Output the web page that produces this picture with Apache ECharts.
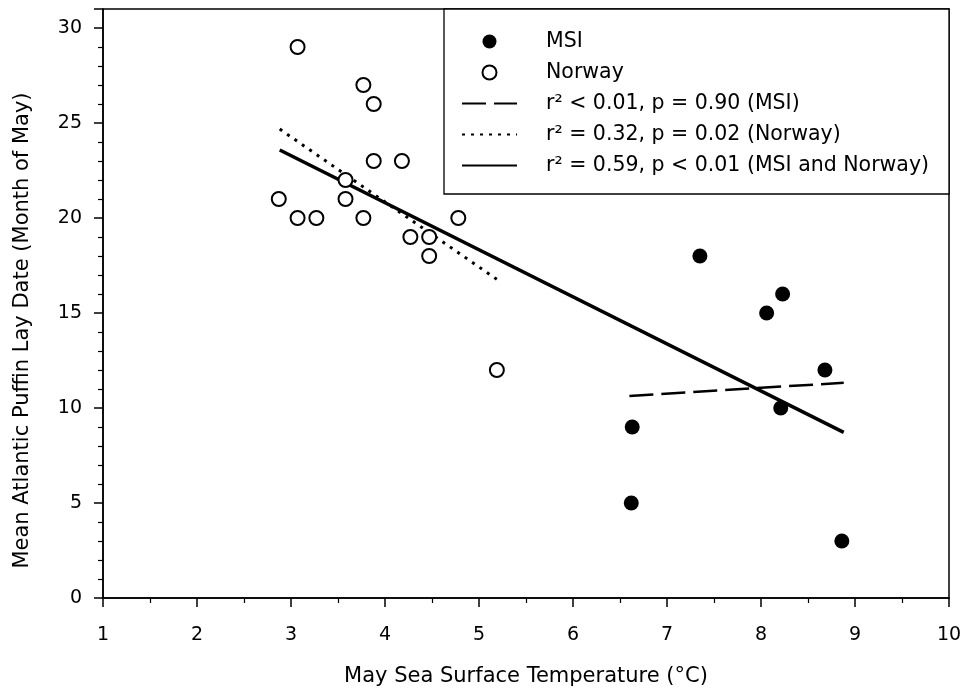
<!DOCTYPE html>
<html>
<head>
<meta charset="utf-8">
<script src="https://cdn.jsdelivr.net/npm/echarts@6/dist/echarts.min.js"></script>
<style>
html,body{margin:0;padding:0;background:#fff;}
#chart{width:965px;height:693px;}
</style>
</head>
<body>
<div id="chart"></div>
<script>
// ---- data ----
const msiX = [7.35, 8.23, 8.06, 8.68, 8.21, 6.63, 6.62, 8.86];
const msiY = [18, 16, 15, 12, 10, 9, 5, 3];
const norwayX = [3.07, 3.77, 3.88, 3.88, 4.18, 3.58, 2.87, 3.58, 3.07, 3.27, 3.77, 4.78, 4.27, 4.47, 4.47, 5.19];
const norwayY = [29, 27, 26, 23, 23, 22, 21, 21, 20, 20, 20, 20, 19, 19, 18, 12];
const fitMsiX = [6.60, 8.88];
const fitMsiY = [10.63, 11.33];
const fitNorwayX = [2.88, 5.19];
const fitNorwayY = [24.68, 16.77];
const fitAllX = [2.88, 8.88];
const fitAllY = [23.58, 8.72];
const seriesNames = ['MSI', 'Norway', 'r\u00B2 < 0.01, p = 0.90 (MSI)', 'r\u00B2 = 0.32, p = 0.02 (Norway)', 'r\u00B2 = 0.59, p < 0.01 (MSI and Norway)'];
const xTitle = 'May Sea Surface Temperature (\u00B0C)';
const yTitle = 'Mean Atlantic Puffin Lay Date (Month of May)';

const zip = (xs, ys) => xs.map((x, i) => [x, ys[i]]);
const FONT = 'DejaVu Sans, Liberation Sans, Arial, sans-serif';
const hiddenSymbol = {color: 'rgba(0,0,0,0)', borderColor: 'rgba(0,0,0,0)', borderWidth: 0, opacity: 0};

const chart = echarts.init(document.getElementById('chart'), null, {renderer: 'canvas'});
chart.setOption({
  animation: false,
  backgroundColor: '#fff',
  textStyle: {fontFamily: FONT, color: '#000'},
  grid: {left: 103, right: 16, top: 9, bottom: 95, show: true, borderColor: '#000', borderWidth: 1.5, backgroundColor: 'transparent'},
  graphic: [{
    type: 'rect', z: 5,
    shape: {x: 444, y: 9, width: 505, height: 185},
    style: {fill: '#fff', stroke: '#000', lineWidth: 1.3}
  }],
  legend: {
    z: 10,
    orient: 'vertical', left: 461, top: 31, padding: 0,
    itemWidth: 55, itemHeight: 14, itemGap: 10,
    selectedMode: false,
    data: [
      {name: seriesNames[0]},
      {name: seriesNames[1]},
      {name: seriesNames[2], itemStyle: hiddenSymbol},
      {name: seriesNames[3], itemStyle: hiddenSymbol},
      {name: seriesNames[4], itemStyle: hiddenSymbol}
    ],
    textStyle: {fontFamily: FONT, fontSize: 20.5, color: '#000', lineHeight: 20, padding: [0, 0, 0, 24]}
  },
  xAxis: {
    type: 'value', min: 1, max: 10, interval: 1,
    name: xTitle, nameLocation: 'middle', nameGap: 68,
    nameTextStyle: {fontFamily: FONT, fontSize: 21, color: '#000'},
    axisLine: {show: true, lineStyle: {color: '#000', width: 1.5}},
    axisTick: {show: true, inside: false, length: 9, lineStyle: {color: '#000', width: 1.5}},
    minorTick: {show: true, splitNumber: 2, length: 5, lineStyle: {color: '#000', width: 1.2}},
    axisLabel: {fontFamily: FONT, fontSize: 19, color: '#000', margin: 28},
    splitLine: {show: false}
  },
  yAxis: {
    type: 'value', min: 0, max: 31, interval: 5,
    name: yTitle, nameLocation: 'middle', nameGap: 70, nameRotate: 90,
    nameTextStyle: {fontFamily: FONT, fontSize: 21, color: '#000', padding: [0, 54, 0, 0]},
    axisLine: {show: true, lineStyle: {color: '#000', width: 1.5}},
    axisTick: {show: true, inside: false, length: 9, lineStyle: {color: '#000', width: 1.5}},
    minorTick: {show: true, splitNumber: 5, length: 5, lineStyle: {color: '#000', width: 1.2}},
    axisLabel: {fontFamily: FONT, fontSize: 19, color: '#000', margin: 21, showMaxLabel: false},
    splitLine: {show: false}
  },
  series: [
    {name: seriesNames[0], type: 'scatter', symbol: 'circle', symbolSize: 15, z: 4,
     itemStyle: {color: '#000', opacity: 1}, data: zip(msiX, msiY)},
    {name: seriesNames[1], type: 'scatter', symbol: 'circle', symbolSize: 14, z: 4,
     itemStyle: {color: '#fff', borderColor: '#000', borderWidth: 2, opacity: 1}, data: zip(norwayX, norwayY)},
    {name: seriesNames[2], type: 'line', symbol: 'none', z: 3,
     lineStyle: {color: '#000', width: 2.5, type: [24, 8]}, itemStyle: {color: '#000'}, data: zip(fitMsiX, fitMsiY)},
    {name: seriesNames[3], type: 'line', symbol: 'none', z: 3,
     lineStyle: {color: '#000', width: 3, type: [3, 6]}, itemStyle: {color: '#000'}, data: zip(fitNorwayX, fitNorwayY)},
    {name: seriesNames[4], type: 'line', symbol: 'none', z: 3,
     lineStyle: {color: '#000', width: 3.5, type: 'solid'}, itemStyle: {color: '#000'}, data: zip(fitAllX, fitAllY)}
  ]
});
</script>
</body>
</html>
